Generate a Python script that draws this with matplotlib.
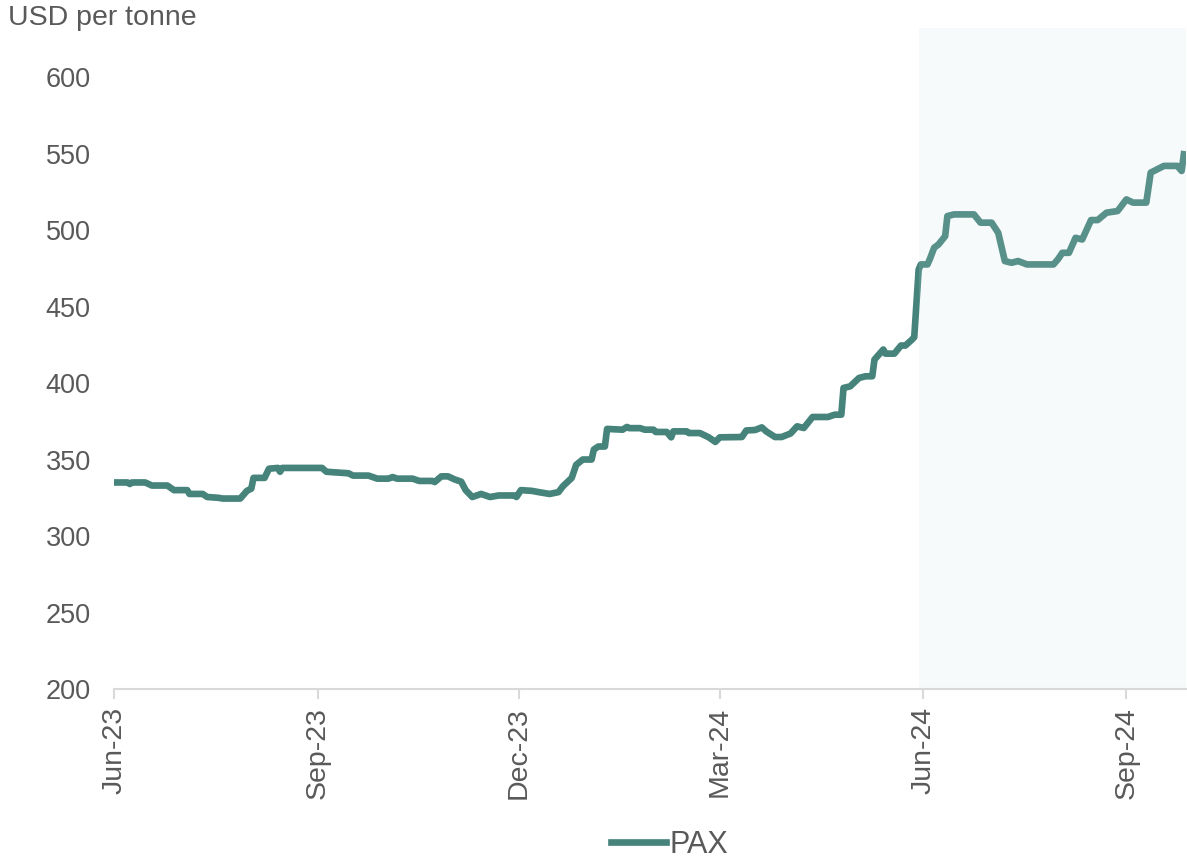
import pandas as pd
import matplotlib
matplotlib.use("Agg")
import matplotlib.pyplot as plt
import matplotlib.dates as mdates

# PAX price, USD per tonne
dates = [
    "2023-06-01", "2023-06-07", "2023-06-08", "2023-06-09", "2023-06-15", "2023-06-18",
    "2023-06-25", "2023-06-28", "2023-07-04", "2023-07-05", "2023-07-11", "2023-07-13",
    "2023-07-18", "2023-07-20", "2023-07-28", "2023-07-31", "2023-08-02", "2023-08-03",
    "2023-08-08", "2023-08-10", "2023-08-14", "2023-08-15", "2023-08-16", "2023-09-03",
    "2023-09-05", "2023-09-15", "2023-09-17", "2023-09-24", "2023-09-28", "2023-10-03",
    "2023-10-05", "2023-10-07", "2023-10-14", "2023-10-17", "2023-10-23", "2023-10-24",
    "2023-10-27", "2023-10-30", "2023-11-02", "2023-11-05", "2023-11-07", "2023-11-10",
    "2023-11-14", "2023-11-18", "2023-11-22", "2023-11-29", "2023-11-30", "2023-12-02",
    "2023-12-07", "2023-12-10", "2023-12-15", "2023-12-19", "2023-12-21", "2023-12-25",
    "2023-12-27", "2023-12-30", "2024-01-03", "2024-01-04", "2024-01-06", "2024-01-09",
    "2024-01-10", "2024-01-17", "2024-01-19", "2024-01-20", "2024-01-25", "2024-01-27",
    "2024-01-31", "2024-02-01", "2024-02-06", "2024-02-08", "2024-02-09", "2024-02-15",
    "2024-02-16", "2024-02-21", "2024-02-25", "2024-02-28", "2024-03-01", "2024-03-11",
    "2024-03-13", "2024-03-17", "2024-03-20", "2024-03-22", "2024-03-26", "2024-03-29",
    "2024-04-02", "2024-04-05", "2024-04-08", "2024-04-12", "2024-04-19", "2024-04-22",
    "2024-04-25", "2024-04-26", "2024-04-29", "2024-05-03", "2024-05-06", "2024-05-09",
    "2024-05-10", "2024-05-14", "2024-05-15", "2024-05-19", "2024-05-22", "2024-05-24",
    "2024-05-27", "2024-05-28", "2024-05-29", "2024-05-30", "2024-05-31", "2024-06-03",
    "2024-06-04", "2024-06-06", "2024-06-08", "2024-06-11", "2024-06-12", "2024-06-15",
    "2024-06-24", "2024-06-27", "2024-07-02", "2024-07-05", "2024-07-08", "2024-07-11",
    "2024-07-14", "2024-07-18", "2024-07-30", "2024-08-01", "2024-08-03", "2024-08-06",
    "2024-08-09", "2024-08-12", "2024-08-16", "2024-08-19", "2024-08-23", "2024-08-28",
    "2024-09-01", "2024-09-04", "2024-09-10", "2024-09-12", "2024-09-15", "2024-09-18",
    "2024-09-24", "2024-09-26", "2024-09-27",
]
pax = [
    335, 335, 334, 335, 335, 333,
    333, 330, 330, 327.5, 327.5, 325.5,
    325, 324.5, 324.5, 329.5, 331, 338,
    338, 344, 344.5, 342, 344.5, 344.5,
    342, 341, 339.5, 339.5, 337.5, 337.5,
    338.5, 337.5, 337.5, 336, 336, 335.3,
    339, 339, 337, 335.5, 330, 325.5,
    327.5, 325.5, 326.5, 326.5, 325.5, 330,
    329.5, 328.7, 327.5, 328.7, 332.5, 338,
    346.5, 350, 350, 356.5, 358.5, 358.5,
    370, 369.5, 371.3, 370.5, 370.5, 369.5,
    369.5, 368, 368, 364.5, 368.4, 368.4,
    367.3, 367.3, 364.5, 361.5, 364.5, 364.7,
    369, 369.3, 371, 368.4, 364.7, 364.7,
    367, 371.7, 370.6, 377.8, 377.8, 379.3,
    379.3, 396.8, 397.8, 403.3, 404.4, 404.4,
    415.3, 421.9, 419.2, 419.2, 424.5, 424.5,
    428.4, 430, 452.4, 474.2, 477.5, 477.5,
    480.8, 488.4, 490.6, 496, 509.1, 510.2,
    510.2, 504.8, 504.8, 498.2, 479.7, 478.6,
    479.7, 477.5, 477.5, 480.8, 485.1, 485.1,
    494.9, 493.8, 506.5, 506.5, 511.3, 512.4,
    520, 517.9, 517.9, 537.5, 539.7, 541.9,
    541.9, 538.6, 549.5,
]
forecast_start = "2024-05-30"
tick_dates = ["2023-06-01", "2023-09-01", "2023-12-01", "2024-03-01", "2024-06-01", "2024-09-01"]
yticks = [200, 250, 300, 350, 400, 450, 500, 550, 600]

plt.rcParams['font.family'] = ['Liberation Sans', 'DejaVu Sans']
text_grey = '#595959'
line_col = '#45837B'

x = pd.to_datetime(dates)

fig = plt.figure(figsize=(11.87, 8.6), dpi=100)
ax = fig.add_axes([0.0963, 0.1988, 0.9029, 0.7686])

ax.plot(x, pax, color=line_col, lw=4.8, solid_joinstyle='round', label='PAX', zorder=2)

# light shaded forecast area, drawn over the line
ax.axvspan(pd.Timestamp(forecast_start), x[-1] + pd.Timedelta(days=1),
           facecolor=(202/255, 222/255, 228/255), alpha=0.15, lw=0, zorder=3)

ax.set_xlim(pd.Timestamp("2023-06-01"), x[-1] + pd.Timedelta(days=1))
ax.set_ylim(200, 632)
ax.set_yticks(yticks)
ax.set_xticks(pd.to_datetime(tick_dates))
ax.xaxis.set_major_formatter(mdates.DateFormatter('%b-%y'))

for s in ['top', 'right', 'left']:
    ax.spines[s].set_visible(False)
ax.spines['bottom'].set_color('#D9D9D9')
ax.spines['bottom'].set_linewidth(1.5)

ax.tick_params(axis='y', length=0, pad=17, labelsize=19.5, labelcolor=text_grey)
ax.tick_params(axis='x', length=7, width=1.5, color='#D9D9D9', pad=6,
               labelsize=20.5, labelcolor=text_grey, labelrotation=90)

fig.text(8/1187, 1 - 18/860, 'USD per tonne', fontsize=20.5, color=text_grey,
         ha='left', va='center')

fig.legend(loc='center', bbox_to_anchor=(670/1187, 1 - 845/860), frameon=False,
           fontsize=22, labelcolor=text_grey, handlelength=1.8, handletextpad=0.12)

fig.savefig('out.png', dpi=100)
